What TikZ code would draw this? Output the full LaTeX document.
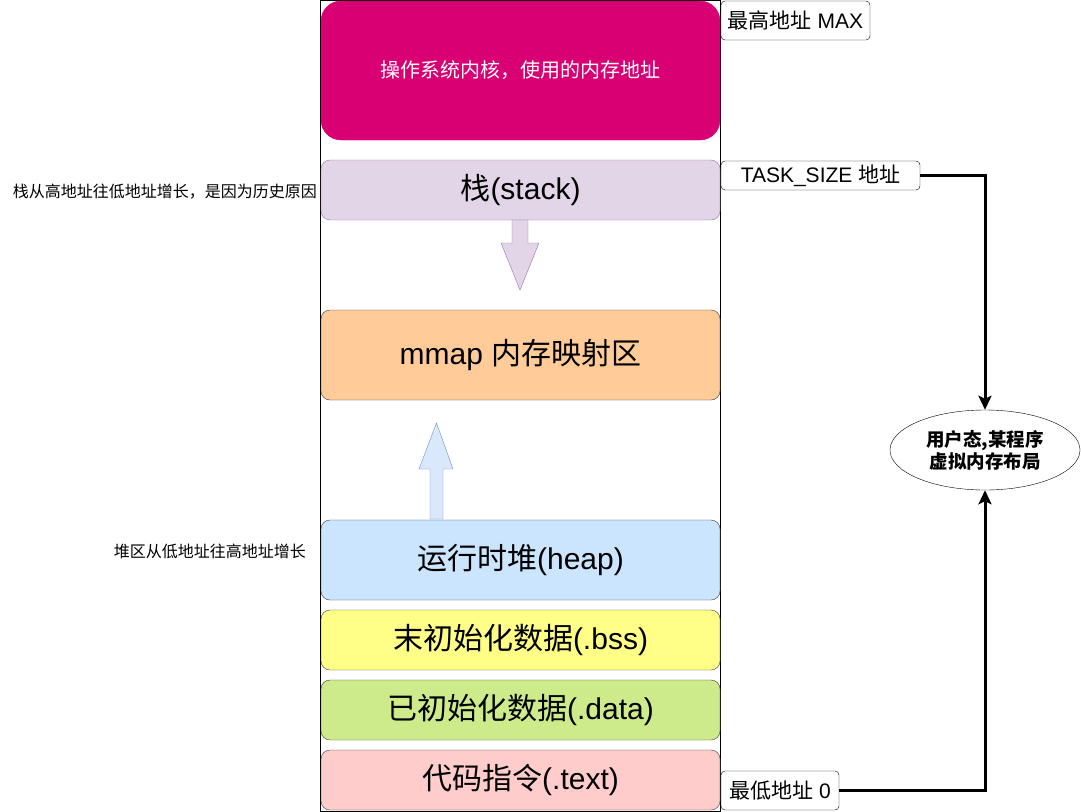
\documentclass[tikz,border=0pt]{standalone}
\usepackage{fontspec}
\setmainfont{Liberation Sans}
\newfontfamily\cjk{Noto Sans CJK SC}
\usetikzlibrary{arrows.meta,shapes.geometric}
\definecolor{kernelfill}{HTML}{D80073}
\definecolor{stackfill}{HTML}{E1D5E7}
\definecolor{stackline}{HTML}{9673A6}
\definecolor{mmapfill}{HTML}{FFCC99}
\definecolor{heapfill}{HTML}{CCE5FF}
\definecolor{bssfill}{HTML}{FFFF88}
\definecolor{datafill}{HTML}{CDEB8B}
\definecolor{textfill}{HTML}{FFCCCC}
\definecolor{segline}{HTML}{36393D}
\definecolor{upfill}{HTML}{DAE8FC}
\definecolor{upline}{HTML}{6C8EBF}

\begin{document}
\begin{tikzpicture}[x=1pt,y=-1pt,
    seg/.style={draw=segline, rounded corners=9pt, minimum width=399pt, inner sep=0pt,
      font=\fontsize{30}{32}\selectfont},
    addr/.style={draw, fill=white, rounded corners=4pt, inner sep=0pt,
      font=\fontsize{21}{23}\selectfont},
    note/.style={anchor=east, inner sep=0pt, font=\cjk\fontsize{16}{18}\selectfont},
    link/.style={line width=3pt, -{Stealth[length=14pt,width=13pt,inset=3pt]}}]
  \useasboundingbox (0,0) rectangle (1081,811);

  \node[draw, minimum width=400pt, minimum height=811pt, inner sep=0pt] (frame) at (520,405.5) {};

  % memory segments, top to bottom
  \node[seg, draw=kernelfill, fill=kernelfill, rounded corners=20pt, minimum height=139pt,
    text=white, font=\cjk\fontsize{20}{22}\selectfont] (kernel) at (520.5,70.5) {操作系统内核，使用的内存地址};
  \node[seg, draw=stackline, fill=stackfill, minimum height=60pt] (stack) at (520.5,190) {{\cjk 栈}(stack)};
  \node[seg, fill=mmapfill, minimum height=90pt] (mmap) at (520.5,355) {mmap {\cjk 内存映射区}};
  \node[seg, fill=heapfill, minimum height=80pt] (heap) at (520.5,560) {{\cjk 运行时堆}(heap)};
  \node[seg, fill=bssfill, minimum height=60pt] (bss) at (520.5,640) {{\cjk 末初始化数据}(.bss)};
  \node[seg, fill=datafill, minimum height=60pt] (data) at (520.5,710) {{\cjk 已初始化数据}(.data)};
  \node[seg, fill=textfill, minimum height=60pt] (text) at (520.5,780) {{\cjk 代码指令}(.text)};

  % growth arrows
  \draw[stackline, fill=stackfill] (512,220) -- (528,220) -- (528,243) -- (539,243) -- (520,290)
    -- (501,243) -- (512,243) -- cycle;
  \draw[upline, fill=upfill] (430,519) -- (443,519) -- (443,469) -- (453,469) -- (436.5,423)
    -- (419,469) -- (430,469) -- cycle;

  \node[note] (stacknote) at (317,192) {栈从高地址往低地址增长，是因为历史原因};
  \node[note] (heapnote) at (306,551) {堆区从低地址往高地址增长};

  % addresses
  \node[addr, minimum width=149pt, minimum height=39pt] (maxaddr) at (795.5,20.5) {{\cjk 最高地址} MAX};
  \node[addr, minimum width=199pt, minimum height=29pt] (taskaddr) at (820.5,175.5) {TASK\_SIZE {\cjk 地址}};
  \node[addr, minimum width=118pt, minimum height=39pt] (lowaddr) at (780,790.5) {{\cjk 最低地址} 0};

  \node[draw, ellipse, minimum width=190pt, minimum height=80pt, inner sep=0pt, align=center,
    font=\cjk\bfseries\fontsize{18.5}{22}\selectfont] (user) at (985,450) {用户态,某程序\\虚拟内存布局};

  \draw[link] (taskaddr.east) -| (user.north);
  \draw[link] (lowaddr.east) -| (user.south);
\end{tikzpicture}
\end{document}
